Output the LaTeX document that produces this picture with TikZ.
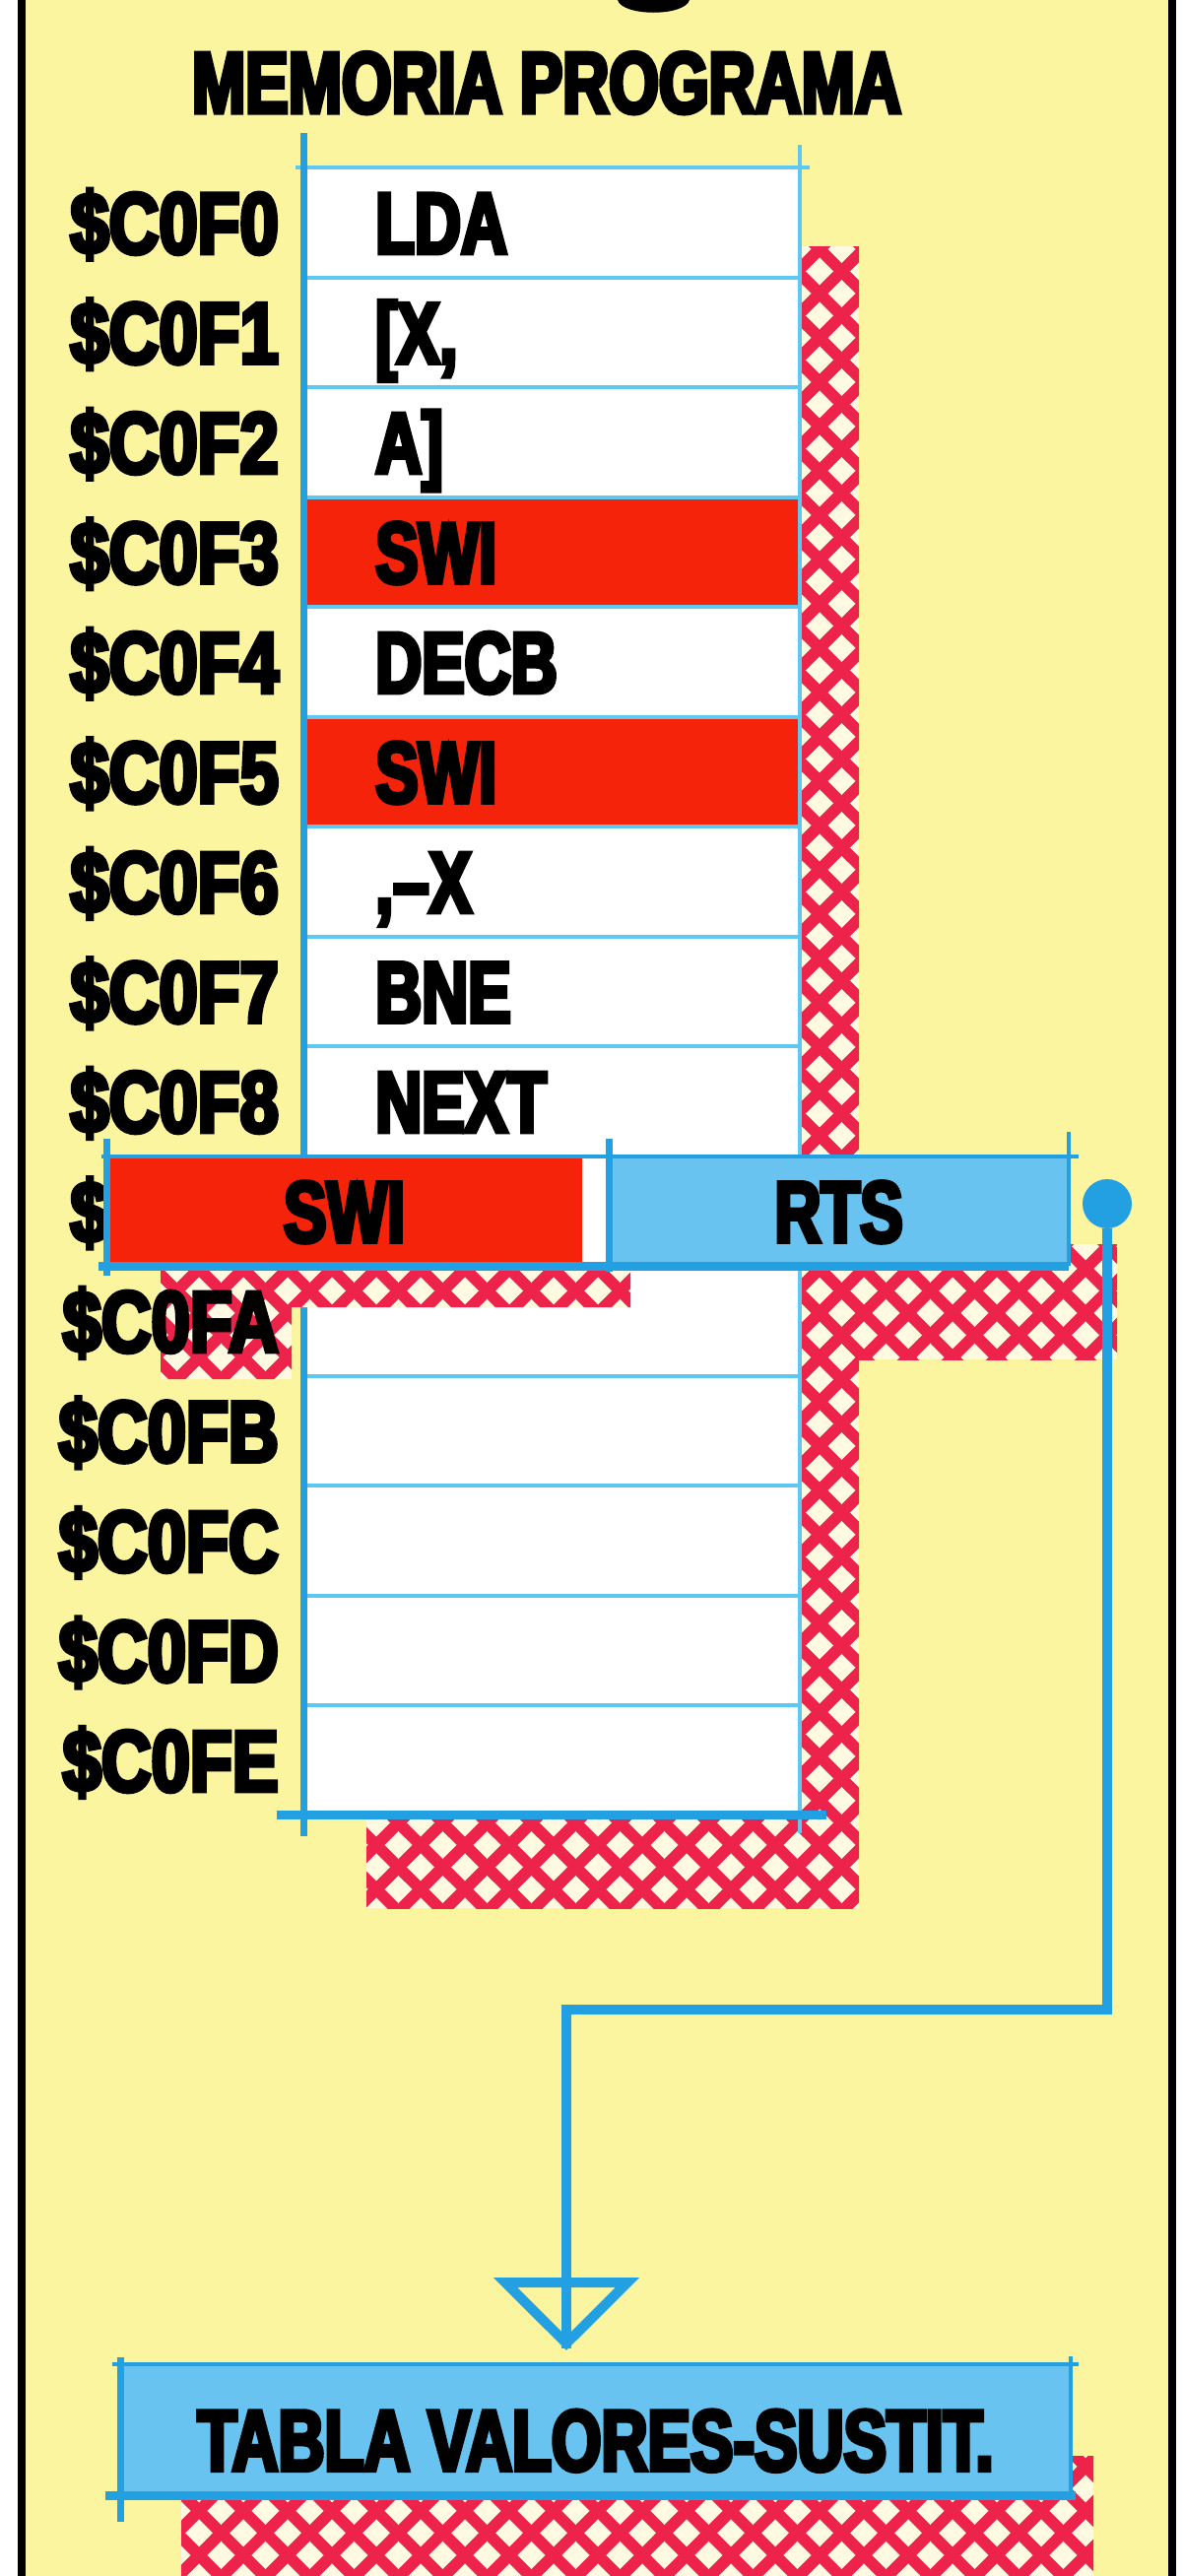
\documentclass[tikz,border=0pt]{standalone}
\usepackage{fontspec}
\newfontfamily\heavyfont{Liberation Sans Bold}[FakeStretch=0.74, FakeBold=5]
\newfontfamily\addrfont{Liberation Sans Bold}[FakeStretch=0.8, FakeBold=5]
\usetikzlibrary{arrows.meta,positioning,patterns.meta}
\definecolor{memYellow}{RGB}{252,245,160}
\definecolor{memBlue}{RGB}{35,160,225}
\definecolor{memCyan}{RGB}{95,200,240}
\definecolor{memSky}{RGB}{105,195,240}
\definecolor{memRed}{RGB}{245,35,10}
\definecolor{memHatch}{RGB}{238,35,75}
\definecolor{memHole}{RGB}{255,250,225}

% red diamond mesh used for the drop shadows
\pgfdeclarepattern{
  name=diamesh, type=uncolored,
  bottom left={\pgfpoint{0pt}{0pt}}, top right={\pgfpoint{45pt}{45pt}},
  tile size={\pgfpoint{45pt}{45pt}},
  code={
    \pgfsetlinewidth{12pt}
    \pgfpathmoveto{\pgfpoint{-10pt}{-10pt}}\pgfpathlineto{\pgfpoint{55pt}{55pt}}
    \pgfpathmoveto{\pgfpoint{-10pt}{55pt}}\pgfpathlineto{\pgfpoint{55pt}{-10pt}}
    \pgfusepath{stroke}
  }
}

\begin{document}
\begin{tikzpicture}[x=1pt, y=-1pt,
  heavy/.style={font=\heavyfont\fontsize{88}{90}\selectfont,
                text height=63pt, text depth=0pt, inner sep=0pt},
  addr/.style={heavy, font=\addrfont\fontsize{88}{90}\selectfont},
  cell/.style={rectangle, fill=white, minimum width=504pt,
               minimum height=111.5pt, inner sep=0pt, outer sep=0pt},
  rowline/.style={memCyan, line width=4pt},
  edge/.style={memBlue, line width=7pt},
  floorline/.style={memBlue, line width=9pt},
  link/.style={memBlue, line width=10pt},
  meshbg/.style={fill=memHole},
  mesh/.style={pattern=diamesh, pattern color=memHatch},
]
\useasboundingbox (0,0) rectangle (1200,2615);

% page and frame
\fill[white] (0,0) rectangle (1200,2615);
\fill[memYellow] (22,0) rectangle (1190,2615);
\draw[black, line width=8pt] (22,0) -- (22,2615);
\draw[black, line width=8pt] (1190,0) -- (1190,2615);

% bottom of the cut-off heading letter
\fill[black] (627,0) .. controls (632,17) and (695,17) .. (700,0) -- cycle;

% title
\node[heavy] (title) at (555,83) {MEMORIA PROGRAMA};

% shadows lying under the memory column
\foreach \m in {meshbg,mesh}{
  \fill[\m] (372,250) rectangle (872,1937);
  \fill[\m] (640,1263) rectangle (1134,1380);
}

% memory cells
\foreach \i/\tint in {0/white,1/white,2/white,3/memRed,4/white,5/memRed,6/white,
                      7/white,8/white,9/white,10/white,11/white,12/white,13/white,14/white}{
  \node[cell, fill=\tint] (c\i) at (560, {170+111.5*(\i+0.5)}) {};
}
\foreach \i in {1,...,14}{
  \draw[rowline] (c\i.north west) -- (c\i.north east);
}
\draw[rowline, shorten <=-8pt, shorten >=-10pt] (c0.north west) -- (c0.north east);
\draw[rowline, shorten <=-23pt, shorten >=-18pt] (c0.north east) -- (c14.south east);
\draw[edge, shorten <=-35pt, shorten >=-21pt] (c0.north west) -- (c14.south west);
\draw[floorline, shorten <=-27pt, shorten >=-27pt] (c14.south west) -- (c14.south east);

% shadow of the SWI block, over the column
\foreach \m in {meshbg,mesh}{
  \fill[\m] (163,1285) -- (640,1285) -- (640,1327) -- (296,1327)
            -- (296,1400) -- (163,1400) -- cycle;
}

% addresses and contents
\foreach \i/\h/\op in {0/0/LDA,1/1/{[X,},2/2/{A]},3/3/SWI,4/4/DECB,5/5/SWI,6/6/{,\textendash X},
                       7/7/BNE,8/8/NEXT,9/9/{},10/A/{},11/B/{},12/C/{},13/D/{},14/E/{}}{
  \node[addr, left=25pt of c\i.west] (a\i) {\$C0F\h};
  \node[heavy, right=73pt of c\i.west] (o\i) {\op};
}

% SWI / RTS bar
\node[cell, heavy, fill=memRed, minimum width=483pt] (swi) at (349.5,1229.25) {SWI};
\node[cell, heavy, fill=memSky, minimum width=467pt] (rts) at (851.5,1229.25) {RTS};
\draw[memBlue, line width=4pt, shorten <=-5pt, shorten >=-10pt] (swi.north west) -- (rts.north east);
\draw[floorline, shorten <=-8pt] (swi.south west) -- (rts.south east);
\draw[edge, shorten <=-18pt, shorten >=-10pt] (swi.north west) -- (swi.south west);
\draw[edge, shorten <=-18pt, shorten >=-6pt] (rts.north west) -- (rts.south west);
\draw[memBlue, line width=4pt, shorten <=-25pt] (rts.north east) -- (rts.south east);

% substitution table
\foreach \m in {meshbg,mesh}{
  \fill[\m] (184,2493) rectangle (1110,2615);
}
\node[cell, heavy, fill=memSky, minimum width=965pt, minimum height=133pt,
      text height=83pt] (tabla) at (604.5,2466.5) {TABLA VALORES-SUSTIT.};
\draw[memBlue, line width=4pt, shorten <=-8pt, shorten >=-8pt] (tabla.north west) -- (tabla.north east);
\draw[edge, shorten <=-7pt, shorten >=-27pt] (tabla.north west) -- (tabla.south west);
\draw[memBlue, line width=4pt, shorten <=-8pt] (tabla.north east) -- (tabla.south east);
\draw[floorline, shorten <=-15pt, shorten >=-5pt] (tabla.south west) -- (tabla.south east);

% link from the RTS end to the table
\node[circle, fill=memBlue, minimum size=50pt, inner sep=0pt] (tap) at (1124,1222) {};
\coordinate (bend) at (575,2040);
\draw[link, -{Triangle[open, length=74pt, width=146pt]}, shorten >=14pt]
     (tap) |- (bend) -- (bend |- tabla.north);
\draw[link, shorten >=16pt] (bend) -- (bend |- tabla.north);

\end{tikzpicture}
\end{document}
